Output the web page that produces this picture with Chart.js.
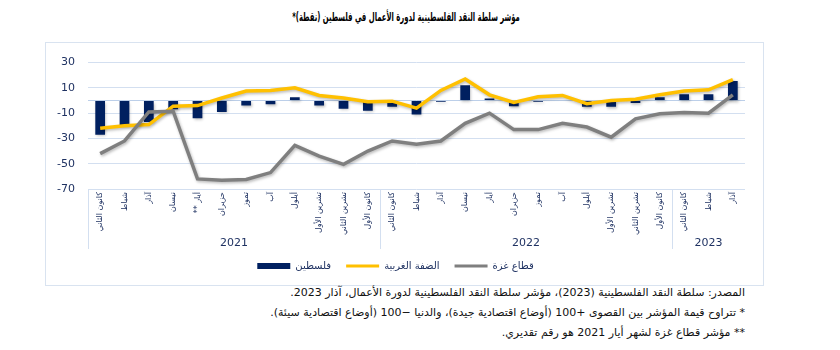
<!DOCTYPE html>
<html>
<head>
<meta charset="utf-8">
<script src="https://cdn.jsdelivr.net/npm/chart.js@4.4.1/dist/chart.umd.min.js"></script>
<style>
    body { margin: 0; width: 840px; height: 350px; background: #fff; position: relative; overflow: hidden; font-family: 'DejaVu Sans', sans-serif; }
    #title { position: absolute; left: 0; top: 9px; width: 812px; text-align: center; font-size: 12px; font-weight: bold; color: #000; line-height: 16px; transform: scaleX(0.57); transform-origin: 406px 0; }
    #frame { position: absolute; left: 45px; top: 42px; width: 717px; height: 242px; border: 1px solid #d9e3f0; }
    #frame canvas { display: block; }
    .note { position: absolute; right: 95px; font-size: 11px; line-height: 14px; color: #111; white-space: nowrap; }
</style>
</head>
<body>
<div id="title" dir="rtl">مؤشر سلطة النقد الفلسطينية لدورة الأعمال في فلسطين (نقطة)*</div>
<div id="frame"><canvas id="chart" width="717" height="242"></canvas></div>
<div class="note" dir="rtl" style="top:286px">المصدر: سلطة النقد الفلسطينية (2023)، مؤشر سلطة النقد الفلسطينية لدورة الأعمال، آذار 2023.</div>
<div class="note" dir="rtl" style="top:306px">* تتراوح قيمة المؤشر بين القصوى +100 (أوضاع اقتصادية جيدة)، والدنيا −100 (أوضاع اقتصادية سيئة).</div>
<div class="note" dir="rtl" style="top:326px">** مؤشر قطاع غزة لشهر أيار 2021 هو رقم تقديري.</div>

<script>
// --- DATA ---
const monthLabels = [
    'كانون الثاني', 'شباط', 'آذار', 'نيسان', 'أيار **\u200F', 'حزيران', 'تموز', 'آب', 'أيلول', 'تشرين الأول', 'تشرين الثاني', 'كانون الأول',
    'كانون الثاني', 'شباط', 'آذار', 'نيسان', 'أيار', 'حزيران', 'تموز', 'آب', 'أيلول', 'تشرين الأول', 'تشرين الثاني', 'كانون الأول',
    'كانون الثاني', 'شباط', 'آذار'
];
const yearLabels = ['2021', '2022', '2023'];
const monthsPerYear = [12, 12, 3];

const palestine = [-27, -20, -17, -7, -14, -9, -4, -3, 2.5, -4, -6.5, -8, -5, -11, -1, 12, 1.5, -4.5, -1, 0, -5, -5, -2, 2.5, 5, 5, 15.5];
const westBank = [-22, -20, -19, -4.5, -4, 2, 7.5, 8, 10, 4, 2, -1, -0.5, -6, 8, 17, 4.5, -1.5, 3, 4, -2.5, 0, 1, 4.5, 7.5, 8.5, 16.5];
const gaza = [-42, -32, -9, -8.5, -62, -63, -62.5, -57, -35.5, -44, -50.5, -40, -32, -34.5, -32, -18, -10, -23, -23, -18, -21, -29, -14.5, -10.5, -9.5, -10, 4.5];

const yTicks = [-70, -50, -30, -10, 0, 10, 30];

// --- STYLE ---
const gridColor = '#d3dff0';
const zeroColor = '#bccfe9';
const labelColor = '#1f3262';
const arabicFont = "'DejaVu Sans', sans-serif";

// year groups under the month labels
const yearGroups = {
    id: 'yearGroups',
    afterDraw(chart) {
        const { ctx, chartArea } = chart;
        const x = chart.scales.x;
        const top = chartArea.bottom;
        const bottom = chartArea.bottom + 60;
        const edges = [chartArea.left];
        let idx = 0;
        monthsPerYear.forEach((n, i) => {
            idx += n;
            if (i < monthsPerYear.length - 1) {
                edges.push((x.getPixelForValue(idx - 1) + x.getPixelForValue(idx)) / 2);
            } else {
                edges.push(chartArea.right);
            }
        });

        ctx.save();
        ctx.strokeStyle = gridColor;
        ctx.lineWidth = 1;
        edges.slice(0, -1).forEach(px => {
            const p = Math.round(px) + 0.5;
            ctx.beginPath();
            ctx.moveTo(p, top);
            ctx.lineTo(p, bottom);
            ctx.stroke();
        });

        ctx.fillStyle = labelColor;
        ctx.font = "11px " + arabicFont;
        ctx.textAlign = 'center';
        ctx.textBaseline = 'middle';
        yearLabels.forEach((label, i) => {
            ctx.fillText(label, (edges[i] + edges[i + 1]) / 2, chartArea.bottom + 54);
        });
        ctx.restore();
    }
};

// soft drop shadow like the original
const shadow = {
    id: 'shadow',
    beforeDatasetDraw(chart) {
        const c = chart.ctx;
        c.save();
        c.shadowColor = 'rgba(0,0,0,0.28)';
        c.shadowBlur = 3;
        c.shadowOffsetX = 1;
        c.shadowOffsetY = 1.5;
    },
    afterDatasetDraw(chart) {
        chart.ctx.restore();
    }
};

new Chart(document.getElementById('chart'), {
    type: 'bar',
    data: {
        labels: monthLabels,
        datasets: [
            {
                type: 'bar',
                label: 'فلسطين',
                data: palestine,
                backgroundColor: '#002060',
                barPercentage: 0.4,
                categoryPercentage: 1,
                order: 3
            },
            {
                type: 'line',
                label: 'الضفة الغربية',
                data: westBank,
                borderColor: '#FFC000',
                backgroundColor: '#FFC000',
                borderWidth: 3.5,
                pointRadius: 0,
                tension: 0,
                order: 2
            },
            {
                type: 'line',
                label: 'قطاع غزة',
                data: gaza,
                borderColor: '#7F7F7F',
                backgroundColor: '#7F7F7F',
                borderWidth: 3.5,
                pointRadius: 0,
                tension: 0,
                order: 1
            }
        ]
    },
    options: {
        responsive: false,
        animation: false,
        events: [],
        layout: { padding: { top: 10, right: 18, bottom: 4, left: 0 } },
        plugins: {
            tooltip: { enabled: false },
            legend: {
                position: 'bottom',
                labels: {
                    usePointStyle: true,
                    pointStyleWidth: 33,
                    boxHeight: 6,
                    padding: 15,
                    color: labelColor,
                    font: { size: 10, family: arabicFont },
                    generateLabels(chart) {
                        return chart.data.datasets.map((ds, i) => ({
                            text: ds.label,
                            datasetIndex: i,
                            fillStyle: ds.backgroundColor,
                            strokeStyle: ds.type === 'line' ? ds.borderColor : ds.backgroundColor,
                            lineWidth: ds.type === 'line' ? 3 : 0,
                            pointStyle: ds.type === 'line' ? 'line' : 'rect',
                            fontColor: labelColor,
                            hidden: false
                        }));
                    }
                }
            }
        },
        scales: {
            x: {
                grid: { display: false, drawTicks: false, tickLength: 0 },
                border: { display: false },
                ticks: {
                    autoSkip: false,
                    minRotation: 90,
                    maxRotation: 90,
                    padding: 3,
                    color: labelColor,
                    font: { size: 8, family: arabicFont }
                },
                afterFit(scale) { scale.height = 57; }
            },
            y: {
                min: -70,
                max: 30,
                afterBuildTicks(scale) { scale.ticks = yTicks.map(v => ({ value: v })); },
                grid: {
                    color: c => (c.tick && c.tick.value === 0 ? zeroColor : gridColor),
                    drawTicks: false,
                    tickLength: 0
                },
                border: { display: false },
                ticks: {
                    padding: 13,
                    color: labelColor,
                    font: { size: 11, family: arabicFont },
                    callback: v => (v === 0 ? '' : v)
                },
                afterFit(scale) { scale.width = 42; }
            }
        }
    },
    plugins: [yearGroups, shadow]
});
</script>
</body>
</html>
